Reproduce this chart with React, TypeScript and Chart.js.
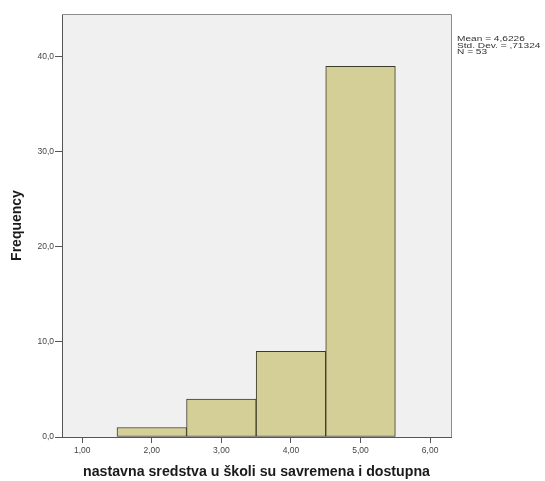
import React, { useEffect, useRef } from "react";
import { Chart, registerables } from "chart.js";

Chart.register(...registerables);

const binCenters = [2, 3, 4, 5];
const frequencies = [1, 4, 9, 39];
const xTickValues = [1, 2, 3, 4, 5, 6];
const yTickValues = [0, 10, 20, 30, 40];
const statsLines = ["Mean = 4,6226", "Std. Dev. = ,71324", "N = 53"];
const xTitle = "nastavna sredstva u školi su savremena i dostupna";
const yTitle = "Frequency";

const W = 545;
const H = 481;
const FONT = "'Liberation Sans', Arial, sans-serif";

export default function App() {
  const ref = useRef<HTMLCanvasElement | null>(null);

  useEffect(() => {
    if (!ref.current) return;
    const framePlugin = {
      id: "frame",
      beforeDraw(chart: any) {
        const { ctx, chartArea: a } = chart;
        ctx.save();
        ctx.fillStyle = "#f0f0f0";
        ctx.fillRect(a.left, a.top, a.right - a.left, a.bottom - a.top);
        ctx.restore();
      },
      afterDraw(chart: any) {
        const { ctx, chartArea: a } = chart;
        ctx.save();
        ctx.strokeStyle = "#8c8c8c";
        ctx.lineWidth = 1;
        ctx.beginPath();
        ctx.moveTo(a.left, a.top + 0.5);
        ctx.lineTo(a.right + 0.5, a.top + 0.5);
        ctx.lineTo(a.right + 0.5, a.bottom);
        ctx.stroke();
        ctx.fillStyle = "#333";
        ctx.font = `7.5px ${FONT}`;
        ctx.textBaseline = "middle";
        statsLines.forEach((s, i) => {
          ctx.save();
          ctx.translate(a.right + 6, a.top + 25 + i * 6.5);
          ctx.scale(1.35, 1);
          ctx.fillText(s, 0, 0);
          ctx.restore();
        });
        ctx.restore();
      },
    };

    const fmtX = (v: number) => v.toFixed(2).replace(".", ",");
    const fmtY = (v: number) => v.toFixed(1).replace(".", ",");

    const chart = new Chart(ref.current, {
      type: "bar",
      data: {
        datasets: [
          {
            data: binCenters.map((x, i) => ({ x, y: frequencies[i] })),
            backgroundColor: "#d4cf97",
            borderColor: "#3a3a2a",
            borderWidth: 1,
            borderSkipped: false,
            barPercentage: 1,
            categoryPercentage: 1,
          } as any,
        ],
      },
      options: {
        animation: false,
        responsive: false,
        maintainAspectRatio: false,
        layout: { padding: { top: 14, right: 94, left: 0, bottom: 0 } },
        plugins: { legend: { display: false }, tooltip: { enabled: false } },
        scales: {
          x: {
            type: "linear",
            offset: false,
            min: 0.71,
            max: 6.3,
            afterBuildTicks: (s: any) => {
              s.ticks = xTickValues.map((v) => ({ value: v }));
            },
            afterFit: (s: any) => {
              s.height = 44;
            },
            ticks: {
              callback: (v: any) => fmtX(Number(v)),
              font: { family: FONT, size: 8.5 },
              color: "#444",
              padding: 3,
              maxRotation: 0,
            },
            grid: {
              offset: false,
              drawOnChartArea: false,
              drawTicks: true,
              tickLength: 6,
              color: "#555",
            },
            border: { color: "#555", width: 1 },
            title: {
              display: true,
              text: xTitle,
              font: { family: FONT, size: 14.2, weight: "bold" },
              color: "#1a1a1a",
              padding: { top: 0, bottom: 0 },
            },
          },
          y: {
            type: "linear",
            min: 0,
            max: 44.5,
            afterBuildTicks: (s: any) => {
              s.ticks = yTickValues.map((v) => ({ value: v }));
            },
            afterFit: (s: any) => {
              s.width = 62;
            },
            ticks: {
              callback: (v: any) => fmtY(Number(v)),
              font: { family: FONT, size: 8.5 },
              color: "#444",
              padding: 1,
            },
            grid: {
              drawOnChartArea: false,
              drawTicks: true,
              tickLength: 7,
              color: "#555",
            },
            border: { color: "#555", width: 1 },
            title: {
              display: true,
              text: yTitle,
              font: { family: FONT, size: 14, weight: "bold" },
              color: "#1a1a1a",
              padding: { top: 9, bottom: 0 },
            },
          },
        },
      } as any,
      plugins: [framePlugin],
    });
    return () => chart.destroy();
  }, []);

  return (
    <div style={{ position: "fixed", left: 0, top: 0, width: W, height: H, background: "#fff" }}>
      <canvas ref={ref} width={W} height={H} style={{ width: W, height: H, display: "block" }} />
    </div>
  );
}
